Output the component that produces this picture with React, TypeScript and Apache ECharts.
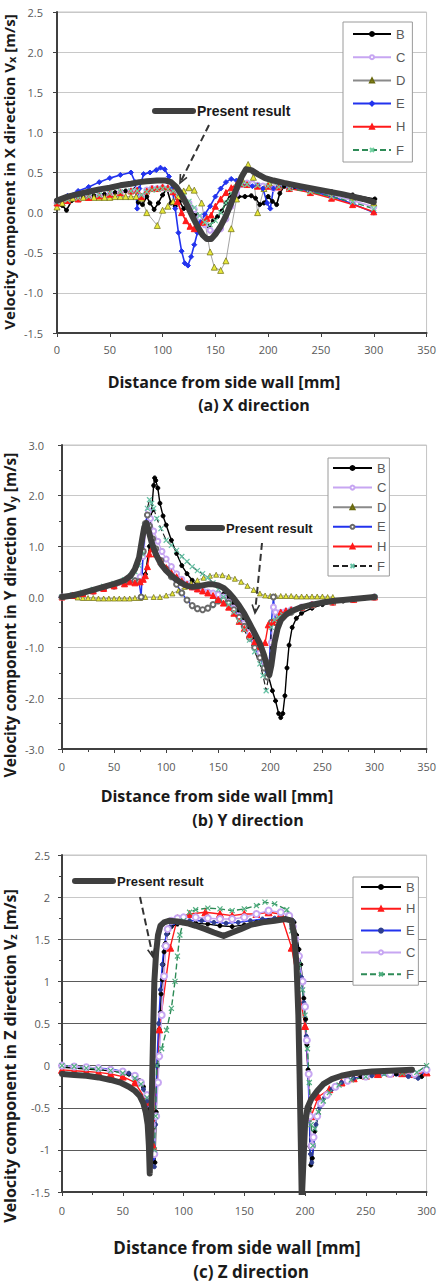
import { useEffect, useRef } from "react";
import * as echarts from "echarts";

// ---------------- DATA ----------------
// (a) X direction  [x mm, Vx m/s]
const PRESENT_A = [[0,0.15],[10,0.2],[20,0.23],[30,0.26],[40,0.29],[50,0.31],[60,0.34],[70,0.36],[78,0.38],[85,0.39],[95,0.4],[103,0.4],[108,0.38],[113,0.32],[118,0.22],[123,0.1],[128,-0.04],[133,-0.17],[138,-0.28],[142,-0.33],[146,-0.33],[150,-0.27],[155,-0.17],[160,-0.04],[165,0.12],[170,0.3],[175,0.45],[179,0.54],[184,0.53],[190,0.48],[197,0.43],[205,0.4],[215,0.37],[230,0.33],[250,0.28],[270,0.23],[290,0.17],[300,0.13]];
const B_A = [[0,0.12],[5,0.09],[9,0.03],[14,0.15],[25,0.19],[35,0.21],[45,0.23],[55,0.25],[65,0.27],[74,0.29],[77,0.13],[81,0.1],[85,0.2],[88,0.12],[92,0.04],[96,0.12],[100,0.22],[104,0.3],[108,0.12],[112,0.08],[116,0.14],[120,0.05],[124,0.12],[128,0.02],[132,-0.04],[136,-0.08],[140,-0.12],[144,-0.17],[148,-0.1],[152,-0.05],[156,0.02],[160,0.12],[164,0.22],[168,0.25],[172,0.2],[178,0.2],[184,0.21],[188,0.18],[192,0.1],[196,0.12],[200,0.2],[204,0.14],[208,0.1],[211,0.24],[215,0.33],[225,0.33],[240,0.3],[260,0.26],[280,0.22],[301,0.17]];
const C_A = [[0,0.12],[10,0.15],[20,0.17],[30,0.19],[40,0.21],[50,0.23],[60,0.25],[70,0.27],[76,0.28],[80,0.2],[85,0.28],[90,0.3],[95,0.3],[100,0.31],[105,0.3],[110,0.28],[115,0.25],[120,0.18],[125,0.12],[130,0.04],[135,-0.06],[140,-0.15],[145,-0.22],[150,-0.25],[155,-0.2],[160,-0.08],[165,0.08],[170,0.24],[175,0.35],[180,0.37],[185,0.36],[190,0.34],[195,0.33],[200,0.33],[205,0.3],[210,0.32],[220,0.3],[240,0.27],[260,0.22],[280,0.15],[300,0.07]];
const D_A = [[0,0.07],[5,0.12],[10,0.16],[15,0.18],[20,0.18],[25,0.19],[30,0.19],[35,0.19],[40,0.19],[45,0.19],[50,0.19],[55,0.2],[60,0.2],[65,0.2],[70,0.2],[75,0.2],[80,0.18],[85,0.0],[95,-0.16],[100,0.03],[105,0.08],[110,0.14],[115,0.2],[120,0.27],[125,0.31],[130,0.28],[137,0.12],[145,-0.49],[149,-0.68],[155,-0.72],[160,-0.6],[165,-0.2],[170,0.17],[175,0.42],[181,0.6],[186,0.44],[190,0.0],[196,0.3],[201,0.37],[210,0.34],[220,0.32],[240,0.28],[260,0.24],[280,0.19],[300,0.12]];
const E_A = [[0,0.15],[10,0.21],[20,0.27],[30,0.32],[40,0.38],[50,0.43],[60,0.47],[70,0.5],[74,0.38],[76,0.05],[78,0.3],[82,0.48],[88,0.5],[94,0.53],[98,0.56],[102,0.54],[106,0.45],[109,0.3],[112,0.05],[115,-0.25],[118,-0.48],[121,-0.63],[124,-0.66],[127,-0.55],[130,-0.4],[133,-0.25],[136,-0.12],[140,-0.02],[145,0.08],[150,0.2],[155,0.3],[160,0.38],[165,0.42],[170,0.4],[175,0.35],[180,0.34],[185,0.33],[190,0.34],[195,0.3],[199,0.12],[202,0.05],[205,0.3],[210,0.33],[220,0.31],[240,0.27],[260,0.2],[280,0.11],[300,0.0]];
const H_A = [[0,0.12],[10,0.15],[20,0.17],[30,0.19],[40,0.21],[50,0.23],[60,0.25],[70,0.27],[76,0.28],[80,0.2],[85,0.27],[90,0.3],[95,0.3],[100,0.32],[105,0.31],[110,0.26],[114,0.14],[118,0.0],[122,-0.1],[126,-0.17],[130,-0.2],[134,-0.18],[138,-0.12],[142,-0.07],[146,-0.03],[150,0.08],[155,0.17],[160,0.25],[165,0.31],[170,0.35],[175,0.36],[180,0.35],[190,0.33],[200,0.33],[210,0.32],[220,0.3],[240,0.25],[260,0.18],[280,0.1],[300,0.01]];
const F_A = [[0,0.13],[10,0.16],[20,0.18],[30,0.2],[40,0.22],[50,0.24],[60,0.26],[70,0.27],[76,0.27],[80,0.22],[85,0.26],[90,0.28],[95,0.29],[100,0.3],[105,0.29],[110,0.27],[115,0.24],[120,0.2],[125,0.14],[130,0.06],[135,-0.04],[140,-0.12],[145,-0.15],[150,-0.1],[155,0.0],[160,0.12],[165,0.24],[170,0.32],[175,0.35],[180,0.35],[190,0.34],[200,0.33],[210,0.32],[220,0.3],[240,0.26],[260,0.2],[280,0.13],[300,0.05]];

// (b) Y direction  [x mm, Vy m/s]
const PRESENT_B = [[0,0.0],[10,0.03],[20,0.08],[30,0.14],[40,0.2],[50,0.26],[60,0.33],[66,0.42],[70,0.55],[74,0.78],[77,1.15],[79,1.38],[81,1.46],[83,1.32],[86,1.08],[90,0.85],[95,0.65],[100,0.52],[105,0.42],[110,0.34],[115,0.27],[120,0.22],[125,0.2],[130,0.21],[135,0.23],[140,0.25],[145,0.25],[150,0.23],[155,0.18],[160,0.09],[165,-0.03],[170,-0.17],[175,-0.33],[180,-0.52],[185,-0.72],[190,-0.92],[194,-1.15],[197,-1.38],[199,-1.54],[201,-1.35],[204,-0.9],[207,-0.62],[210,-0.46],[215,-0.35],[220,-0.28],[230,-0.2],[240,-0.15],[250,-0.11],[260,-0.08],[270,-0.06],[280,-0.04],[290,-0.02],[300,0.0]];
const B_B = [[0,0.0],[10,0.03],[20,0.08],[30,0.14],[40,0.2],[50,0.25],[60,0.29],[70,0.33],[75,0.35],[80,0.45],[84,1.0],[86,1.7],[88,2.2],[89,2.35],[90,2.3],[92,2.15],[94,1.85],[97,1.6],[100,1.42],[105,1.12],[110,0.86],[115,0.62],[120,0.46],[125,0.33],[130,0.22],[135,0.15],[140,0.1],[145,0.06],[150,0.07],[155,0.06],[160,0.0],[165,-0.12],[170,-0.27],[175,-0.42],[180,-0.6],[185,-0.82],[190,-1.05],[194,-1.3],[198,-1.55],[202,-1.85],[205,-2.05],[208,-2.3],[210,-2.38],[212,-2.3],[214,-1.95],[216,-1.4],[218,-0.95],[221,-0.6],[225,-0.42],[230,-0.32],[240,-0.22],[250,-0.15],[260,-0.11],[270,-0.08],[280,-0.05],[290,-0.03],[300,0.0]];
const C_B = [[0,0.0],[10,0.03],[20,0.07],[30,0.12],[40,0.17],[50,0.22],[60,0.27],[70,0.32],[75,0.4],[78,0.8],[81,1.4],[83,1.7],[85,1.55],[88,1.3],[92,1.1],[96,0.9],[100,0.75],[105,0.6],[110,0.46],[115,0.35],[120,0.26],[125,0.2],[130,0.16],[135,0.13],[140,0.1],[145,0.08],[150,0.05],[155,0.0],[160,-0.1],[165,-0.22],[170,-0.37],[175,-0.52],[180,-0.7],[185,-0.9],[190,-1.1],[195,-1.3],[198,-1.4],[201,-0.9],[203,-0.2],[205,-0.3],[210,-0.3],[215,-0.28],[220,-0.25],[230,-0.2],[240,-0.15],[260,-0.1],[280,-0.05],[300,0.0]];
const D_B = [[15,-0.01],[20,-0.02],[25,-0.02],[30,-0.02],[35,-0.03],[40,-0.03],[45,-0.03],[50,-0.03],[55,-0.03],[60,-0.03],[65,-0.03],[70,-0.02],[75,-0.02],[80,0.0],[88,0.0],[94,0.0],[100,0.03],[106,0.07],[112,0.13],[118,0.2],[124,0.27],[130,0.33],[136,0.38],[142,0.42],[148,0.44],[154,0.43],[160,0.4],[166,0.36],[172,0.3],[178,0.22],[184,0.14],[190,0.07],[195,0.03],[200,0.02],[205,0.02],[210,0.02],[215,0.02],[220,0.02],[225,0.01],[230,0.01],[235,0.01],[240,0.01],[245,0.01],[250,0.01],[255,0.0],[260,0.0]];
const E_B = [[0,0.0],[10,0.03],[20,0.07],[30,0.12],[40,0.17],[50,0.22],[60,0.27],[70,0.32],[74,0.3],[76,0.0],[78,0.9],[80,1.45],[82,1.62],[84,1.4],[87,1.15],[90,0.95],[95,0.72],[100,0.55],[105,0.4],[110,0.25],[115,0.08],[120,-0.06],[125,-0.17],[130,-0.23],[135,-0.25],[140,-0.22],[145,-0.15],[150,-0.08],[155,-0.06],[160,-0.12],[165,-0.25],[170,-0.4],[175,-0.58],[180,-0.8],[185,-1.0],[190,-1.2],[194,-1.4],[197,-1.58],[199,-1.3],[201,-0.5],[203,0.0],[205,-0.5],[208,-0.45],[212,-0.38],[220,-0.3],[230,-0.22],[240,-0.16],[260,-0.1],[280,-0.05],[300,0.0]];
const H_B = [[0,0.0],[10,0.03],[20,0.07],[30,0.12],[40,0.17],[50,0.22],[60,0.26],[65,0.3],[70,0.28],[75,0.3],[78,0.35],[80,0.42],[82,0.6],[84,0.85],[86,0.95],[90,0.85],[95,0.7],[100,0.58],[105,0.48],[110,0.4],[115,0.32],[120,0.25],[125,0.2],[130,0.16],[135,0.12],[140,0.08],[145,0.03],[150,-0.05],[155,-0.12],[160,-0.2],[165,-0.32],[170,-0.48],[175,-0.62],[180,-0.75],[185,-0.88],[190,-0.98],[195,-0.9],[198,-0.55],[202,-0.5],[206,-0.45],[210,-0.3],[215,-0.27],[220,-0.25],[230,-0.2],[240,-0.15],[260,-0.1],[280,-0.05],[300,0.0]];
const F_B = [[0,0.0],[10,0.04],[20,0.09],[30,0.15],[40,0.21],[50,0.27],[60,0.34],[66,0.42],[70,0.5],[74,0.62],[77,0.85],[80,1.4],[82,1.75],[84,1.92],[86,1.85],[88,1.75],[91,1.55],[95,1.35],[100,1.12],[105,1.02],[110,0.92],[115,0.8],[120,0.7],[125,0.6],[130,0.52],[135,0.46],[140,0.38],[145,0.28],[150,0.15],[155,0.0],[160,-0.15],[165,-0.3],[170,-0.47],[175,-0.65],[180,-0.85],[185,-1.08],[190,-1.32],[193,-1.55],[196,-1.85],[199,-1.5],[201,-0.6],[204,-0.45],[208,-0.4],[212,-0.35],[220,-0.28],[230,-0.21],[240,-0.16],[260,-0.1],[280,-0.05],[300,0.0]];

// (c) Z direction  [x mm, Vz m/s]
const PRESENT_C = [[0,-0.1],[10,-0.11],[20,-0.12],[30,-0.14],[40,-0.17],[48,-0.2],[55,-0.25],[60,-0.3],[64,-0.36],[67,-0.45],[69,-0.56],[70.5,-0.7],[71.5,-0.95],[72.2,-1.28],[73,-0.9],[74,-0.3],[75,0.4],[76,1.0],[77.5,1.35],[79,1.55],[81,1.66],[84,1.7],[88,1.72],[95,1.71],[103,1.69],[110,1.66],[118,1.62],[125,1.58],[133,1.54],[140,1.58],[147,1.62],[155,1.67],[165,1.7],[175,1.72],[184,1.74],[189,1.72],[191,1.55],[193,1.2],[194.5,0.6],[195.5,-0.1],[196.5,-0.9],[197.3,-1.6],[198.5,-1.2],[200,-0.7],[202,-0.5],[205,-0.4],[210,-0.3],[215,-0.22],[222,-0.16],[230,-0.12],[240,-0.09],[255,-0.07],[270,-0.06],[288,-0.05]];
const B_C = [[0,-0.02],[10,-0.03],[20,-0.04],[30,-0.05],[40,-0.06],[50,-0.08],[55,-0.1],[60,-0.13],[64,-0.18],[67,-0.25],[70,-0.38],[72,-0.52],[74,-0.75],[75.5,-1.0],[76.5,-1.15],[77.5,-0.55],[78.5,0.0],[80,0.43],[81,0.63],[81.5,0.85],[82.5,1.02],[83,1.2],[84,1.35],[85,1.45],[87,1.57],[90,1.65],[95,1.68],[100,1.7],[110,1.69],[120,1.68],[130,1.66],[140,1.65],[150,1.67],[160,1.7],[170,1.72],[180,1.74],[188,1.75],[191,1.7],[193,1.55],[195,1.38],[196.5,1.2],[198,1.0],[199,0.8],[200.5,0.55],[201.5,0.25],[202.5,-0.05],[203.5,-0.5],[204,-0.96],[204.8,-1.18],[206,-1.1],[208,-0.78],[211,-0.58],[214,-0.45],[220,-0.3],[226,-0.24],[235,-0.18],[246,-0.13],[260,-0.11],[275,-0.1],[290,-0.12],[296,-0.13]];
const H_C = [[0,-0.05],[10,-0.06],[20,-0.07],[30,-0.08],[40,-0.1],[50,-0.13],[60,-0.2],[70,-0.43],[75,-0.95],[80,0.43],[89,1.4],[95,1.75],[105,1.8],[118,1.82],[130,1.8],[140,1.78],[150,1.8],[160,1.8],[170,1.82],[180,1.8],[189,1.4],[200,0.47],[205,-0.6],[211,-0.37],[220,-0.28],[230,-0.2],[240,-0.15],[250,-0.12],[260,-0.1],[270,-0.09],[280,-0.09],[290,-0.1],[300,-0.08]];
const E_C = [[0,0.0],[10,-0.01],[20,-0.02],[30,-0.03],[40,-0.04],[50,-0.07],[55,-0.09],[60,-0.13],[64,-0.2],[67,-0.28],[70,-0.42],[72,-0.6],[74,-0.9],[76,-1.2],[77,-0.7],[78,0.0],[79.5,0.5],[81,0.9],[82.5,1.2],[84,1.42],[86,1.56],[89,1.65],[95,1.7],[105,1.72],[115,1.72],[125,1.7],[135,1.69],[145,1.7],[155,1.72],[165,1.74],[175,1.75],[185,1.76],[190,1.72],[193,1.5],[195,1.3],[197,1.05],[199,0.75],[201,0.35],[202.5,-0.1],[203.5,-0.6],[204.5,-1.05],[205.5,-1.15],[207,-0.95],[209,-0.7],[212,-0.5],[216,-0.38],[222,-0.28],[230,-0.2],[240,-0.15],[255,-0.12],[270,-0.11],[285,-0.13],[293,-0.15],[300,-0.05]];
const C_C = [[0,0.0],[10,-0.01],[20,-0.02],[30,-0.03],[40,-0.05],[50,-0.07],[60,-0.12],[65,-0.2],[70,-0.35],[74,-0.7],[76,-1.05],[77.5,-0.6],[79,-0.2],[80,0.11],[82,0.6],[84,1.06],[85.5,1.42],[87,1.62],[90,1.72],[95,1.75],[100,1.76],[110,1.76],[120,1.75],[130,1.74],[140,1.74],[150,1.76],[160,1.8],[170,1.84],[180,1.82],[187,1.78],[190,1.65],[192,1.5],[195,1.3],[198,1.0],[200,0.7],[201.5,0.3],[203,-0.1],[204,-0.6],[205.5,-0.95],[207,-0.85],[210,-0.6],[213,-0.45],[218,-0.35],[225,-0.25],[235,-0.18],[250,-0.13],[270,-0.1],[290,-0.1],[300,-0.05]];
const F_C = [[0,0.0],[10,-0.01],[20,-0.03],[30,-0.04],[40,-0.06],[50,-0.09],[60,-0.15],[65,-0.22],[70,-0.38],[74,-0.75],[76,-1.0],[77,-0.6],[78,0.0],[82,0.2],[86,0.42],[90,0.68],[93,1.0],[95,1.3],[97,1.55],[100,1.72],[105,1.82],[110,1.85],[120,1.87],[130,1.86],[140,1.84],[150,1.86],[160,1.9],[167,1.94],[175,1.92],[185,1.85],[189,1.6],[192,1.4],[195,1.2],[198,0.9],[200,0.6],[202,0.2],[203.5,-0.2],[205,-0.7],[206.5,-0.95],[208,-0.75],[211,-0.55],[215,-0.42],[220,-0.32],[228,-0.23],[238,-0.17],[250,-0.13],[265,-0.1],[280,-0.09],[292,-0.08],[300,0.0]];

const LEGEND_A = ["B", "C", "D", "E", "H", "F"];
const LEGEND_B = ["B", "C", "D", "E", "H", "F"];
const LEGEND_C = ["B", "H", "E", "C", "F"];

// ---------------- STYLES ----------------
const XMARK = "path://M0,0L10,10M10,0L0,10";
const FONT = "Open Sans";

type Sty = { line: string; width?: number; dash?: boolean; sym: string; size: number; fill: string; border?: string; bw?: number };
const STY_A: Record<string, Sty> = {
  B: { line: "#000", width: 1.6, sym: "circle", size: 4, fill: "#000" },
  C: { line: "#c7a6f2", width: 1.6, sym: "emptyCircle", size: 5, fill: "#c7a6f2" },
  D: { line: "#8a8a8a", width: 0.8, sym: "triangle", size: 6, fill: "#e8e83a", border: "#6a6a10", bw: 0.7 },
  E: { line: "#2233ee", width: 1.6, sym: "diamond", size: 5, fill: "#2233ee" },
  H: { line: "#ff1a1a", width: 1.6, sym: "triangle", size: 6, fill: "#ff1a1a" },
  F: { line: "#2e8b57", width: 1.4, dash: true, sym: XMARK, size: 5, fill: "#6fcf9f", border: "#6fcf9f", bw: 1.2 },
};
const STY_B: Record<string, Sty> = {
  B: { line: "#000", width: 1.4, sym: "circle", size: 4, fill: "#000" },
  C: { line: "#c7a6f2", width: 1.4, sym: "emptyCircle", size: 5, fill: "#c7a6f2" },
  D: { line: "#8a8a8a", width: 0.8, sym: "triangle", size: 5, fill: "#e8e83a", border: "#6a6a10", bw: 0.7 },
  E: { line: "#2233ee", width: 1.4, sym: "emptyCircle", size: 5, fill: "#6a6a6a" },
  H: { line: "#ff1a1a", width: 1.4, sym: "triangle", size: 6, fill: "#ff1a1a" },
  F: { line: "#222", width: 1.2, dash: true, sym: XMARK, size: 5, fill: "#66c2a5", border: "#66c2a5", bw: 1.2 },
};
const STY_C: Record<string, Sty> = {
  B: { line: "#000", width: 1.4, sym: "circle", size: 4, fill: "#000" },
  H: { line: "#ff1a1a", width: 1.4, sym: "triangle", size: 7, fill: "#ff1a1a" },
  E: { line: "#2233ee", width: 1.4, sym: "circle", size: 4, fill: "#2f3f8f" },
  C: { line: "#c7a6f2", width: 1.4, sym: "emptyCircle", size: 6, fill: "#c7a6f2" },
  F: { line: "#2e8b57", width: 1.4, dash: true, sym: XMARK, size: 5, fill: "#4fae7f", border: "#4fae7f", bw: 1.2 },
};

function expSeries(prefix: string, key: string, data: number[][], gi: number, s: Sty) {
  return {
    type: "line",
    name: prefix + ":" + key,
    xAxisIndex: gi,
    yAxisIndex: gi,
    data,
    symbol: s.sym,
    symbolSize: s.size,
    showAllSymbol: true,
    lineStyle: { color: s.line, width: s.width ?? 1.4, type: s.dash ? [6, 3] : "solid" },
    itemStyle: { color: s.fill, borderColor: s.border ?? s.fill, borderWidth: s.bw ?? 1 },
    z: 2,
  };
}

function presentSeries(prefix: string, data: number[][], gi: number) {
  return {
    type: "line",
    name: prefix + ":Present result",
    xAxisIndex: gi,
    yAxisIndex: gi,
    data,
    symbol: "none",
    lineStyle: { color: "#3f3f3f", width: 6, join: "round", cap: "round" },
    z: 3,
  };
}

function xAxis(gi: number, max: number, minor: boolean, margin: number) {
  return {
    type: "value", gridIndex: gi, min: 0, max, interval: 50,
    axisLine: { show: true, onZero: false, lineStyle: { color: "#404040", width: 2 } },
    axisTick: { show: true, inside: false, length: 4, lineStyle: { color: "#404040" } },
    minorTick: { show: minor, splitNumber: 2, length: 3, lineStyle: { color: "#404040" } },
    axisLabel: { color: "#595959", fontSize: 11, fontFamily: FONT, margin },
    splitLine: { show: false },
  };
}

function yAxis(gi: number, min: number, max: number, interval: number, fixed: boolean, minor: boolean, margin: number, gridColors: string[] | string) {
  return {
    type: "value", gridIndex: gi, min, max, interval,
    axisLine: { show: true, onZero: false, lineStyle: { color: "#404040", width: 2 } },
    axisTick: { show: true, inside: false, length: 4, lineStyle: { color: "#404040" } },
    minorTick: { show: minor, splitNumber: 2, length: 3, lineStyle: { color: "#404040" } },
    axisLabel: {
      color: "#595959", fontSize: 11, fontFamily: FONT, margin,
      formatter: (v: number) => (fixed ? v.toFixed(1) : String(v)),
    },
    splitLine: { show: true, lineStyle: { color: gridColors, width: 1.2 } },
  };
}

function legend(prefix: string, keys: string[], left: number, top: number, itemWidth: number, gap: number, pad: number[]) {
  return {
    show: true, orient: "vertical", left, top,
    data: keys.map((k) => prefix + ":" + k),
    itemWidth, itemHeight: 5, itemGap: gap, padding: pad,
    borderColor: "#9a9a9a", borderWidth: 1, backgroundColor: "#fff",
    selectedMode: false,
    formatter: (n: string) => n.split(":")[1],
    textStyle: { color: "#595959", fontSize: 13, fontFamily: "Liberation Sans", lineHeight: 14 },
  };
}

function arrowEls(x1: number, y1: number, x2: number, y2: number) {
  const a = Math.atan2(y2 - y1, x2 - x1);
  const L = 9, w = 0.42;
  return [
    { type: "line", z: 100, shape: { x1, y1, x2, y2 }, style: { stroke: "#333", lineWidth: 2, lineDash: [7, 4] } },
    {
      type: "polyline", z: 100,
      shape: { points: [[x2 - L * Math.cos(a - w), y2 - L * Math.sin(a - w)], [x2, y2], [x2 - L * Math.cos(a + w), y2 - L * Math.sin(a + w)]] },
      style: { stroke: "#333", lineWidth: 1.6, fill: null },
    },
  ];
}

function presentLegend(x1: number, x2: number, y: number, fs: number) {
  return [
    { type: "line", z: 100, shape: { x1, y1: y, x2, y2: y }, style: { stroke: "#3f3f3f", lineWidth: 6, lineCap: "round" } },
    { type: "text", z: 100, x: x2 + 4, y, style: { text: "Present result", fill: "#1a1a1a", font: `bold ${fs}px "Liberation Sans"`, align: "left", verticalAlign: "middle" } },
  ];
}

function centerText(text: string, x: number, y: number, fs: number) {
  return { type: "text", z: 100, x, y, style: { text, fill: "#1a1a1a", font: `bold ${fs}px "${FONT}"`, align: "center", verticalAlign: "middle" } };
}

function yTitle(dir: string, sub: string, x: number, y: number, fs: number) {
  return {
    type: "text", z: 100, x, y, rotation: Math.PI / 2,
    style: {
      text: `{m|Velocity component in ${dir} direction V}{s|${sub}}{m| [m/s]}`,
      align: "center", verticalAlign: "middle",
      rich: {
        m: { fontSize: fs, fontWeight: "bold", fontFamily: FONT, fill: "#1a1a1a", lineHeight: fs + 4, verticalAlign: "bottom" },
        s: { fontSize: Math.round(fs * 0.7), fontWeight: "bold", fontFamily: FONT, fill: "#1a1a1a", lineHeight: fs - 2, verticalAlign: "bottom" },
      },
    },
  };
}

export default function App() {
  const ref = useRef<HTMLDivElement>(null);
  useEffect(() => {
    if (!ref.current) return;
    const chart = echarts.init(ref.current, undefined, { renderer: "svg" });
    const darkGrid = ["#5a5a5a", "#5a5a5a", "#5a5a5a", "#5a5a5a", "#5a5a5a", "#5a5a5a", "#8a8a8a", "#c8c8c8", "#c8c8c8"];
    const expA = [["B", B_A], ["C", C_A], ["D", D_A], ["E", E_A], ["H", H_A], ["F", F_A]] as [string, number[][]][];
    const expB = [["B", B_B], ["C", C_B], ["D", D_B], ["E", E_B], ["H", H_B], ["F", F_B]] as [string, number[][]][];
    const expC = [["B", B_C], ["H", H_C], ["E", E_C], ["C", C_C], ["F", F_C]] as [string, number[][]][];
    const option: any = {
      animation: false,
      backgroundColor: "#fff",
      grid: [
        { left: 57, top: 12, width: 370, height: 321, show: true, borderColor: "#c4c4c4", borderWidth: 1 },
        { left: 62, top: 445, width: 365, height: 304, show: true, borderColor: "#c4c4c4", borderWidth: 1 },
        { left: 62, top: 855, width: 367, height: 337, show: true, borderColor: "#c4c4c4", borderWidth: 1 },
      ],
      xAxis: [xAxis(0, 350, false, 11), xAxis(1, 350, true, 12), xAxis(2, 300, true, 13)],
      yAxis: [
        yAxis(0, -1.5, 2.5, 0.5, true, false, 14, "#c8c8c8"),
        yAxis(1, -3, 3, 1, true, true, 18, "#c8c8c8"),
        yAxis(2, -1.5, 2.5, 0.5, false, true, 12, darkGrid),
      ],
      legend: [
        legend("a", LEGEND_A, 343, 22, 38, 9.2, [5, 7, 5, 9]),
        legend("b", LEGEND_B, 328, 458, 39, 5.6, [3, 3, 3, 4]),
        legend("c", LEGEND_C, 353, 877, 40, 7.8, [3, 3, 4, 7]),
      ],
      series: [
        ...expA.map(([k, d]) => expSeries("a", k, d, 0, STY_A[k])),
        presentSeries("a", PRESENT_A, 0),
        ...expB.map(([k, d]) => expSeries("b", k, d, 1, STY_B[k])),
        presentSeries("b", PRESENT_B, 1),
        ...expC.map(([k, d]) => expSeries("c", k, d, 2, STY_C[k])),
        presentSeries("c", PRESENT_C, 2),
      ],
      graphic: [
        yTitle("X", "x", 7, 172, 15),
        yTitle("Y", "y", 8, 615, 15.5),
        yTitle("Z", "z", 8, 1056, 16),
        centerText("Distance from side wall [mm]", 224, 382, 16),
        centerText("(a) X direction", 254, 405, 16),
        centerText("Distance from side wall [mm]", 217, 796, 16),
        centerText("(b) Y direction", 248, 820, 16),
        centerText("Distance from side wall [mm]", 237, 1247, 17),
        centerText("(c) Z direction", 251, 1271, 17),
        ...presentLegend(155, 193, 111, 14),
        ...presentLegend(188, 222, 528, 13),
        ...presentLegend(75, 113, 881, 13),
        ...arrowEls(209, 125, 180, 183),
        ...arrowEls(262, 543, 255, 613),
        ...arrowEls(140, 897, 153, 957),
      ],
    };
    chart.setOption(option);
    return () => chart.dispose();
  }, []);
  return (
    <div
      ref={ref}
      style={{ position: "absolute", left: 0, top: 0, width: 439, height: 1282, background: "#fff" }}
    />
  );
}
